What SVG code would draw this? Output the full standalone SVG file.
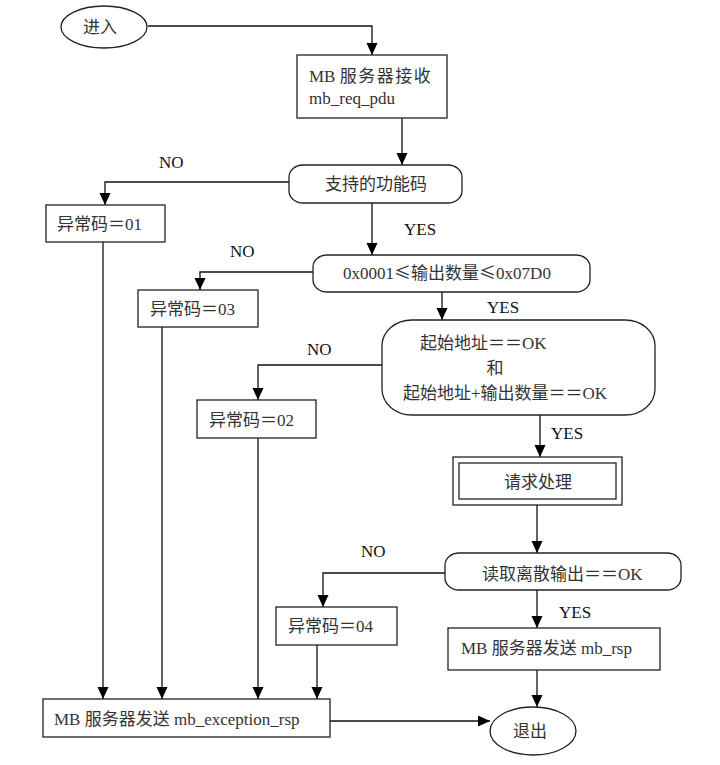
<svg xmlns="http://www.w3.org/2000/svg" width="720" height="765" viewBox="0 0 720 765">
<defs>
<marker id="arr" markerWidth="13" markerHeight="12" refX="12" refY="5.5" orient="auto" markerUnits="userSpaceOnUse">
<path d="M0,0 L12,5.5 L0,11 Z" fill="#000"/>
</marker>
<style>
.s{fill:#fff;stroke:#222;stroke-width:1.3}
.t{font-family:'Liberation Serif','DejaVu Serif','Noto Sans CJK SC',serif;font-size:17px;fill:#333}
.l{font-family:'Liberation Serif','DejaVu Serif','Noto Sans CJK SC',serif;font-size:17px;fill:#111}
.c{fill:none;stroke:#111;stroke-width:1.3}
.cj{font-family:'Noto Sans CJK SC',sans-serif}
</style>
</defs>
<rect width="720" height="765" fill="#fff"/>
<g id="connectors">
<path class="c" d="M148,26 H372 V55" marker-end="url(#arr)"/>
<path class="c" d="M402,118 V165" marker-end="url(#arr)"/>
<path class="c" d="M289,182 H105 V205" marker-end="url(#arr)"/>
<path class="c" d="M372,203 V255" marker-end="url(#arr)"/>
<path class="c" d="M313,272 H200 V290" marker-end="url(#arr)"/>
<path class="c" d="M442,292 V320" marker-end="url(#arr)"/>
<path class="c" d="M382,365 H258 V400" marker-end="url(#arr)"/>
<path class="c" d="M540,415 V457" marker-end="url(#arr)"/>
<path class="c" d="M537,505 V553" marker-end="url(#arr)"/>
<path class="c" d="M445,573 H323 V607" marker-end="url(#arr)"/>
<path class="c" d="M537,590 V628" marker-end="url(#arr)"/>
<path class="c" d="M537,670 V707" marker-end="url(#arr)"/>
<path class="c" d="M103,242 V699" marker-end="url(#arr)"/>
<path class="c" d="M162,327 V699" marker-end="url(#arr)"/>
<path class="c" d="M258,438 V699" marker-end="url(#arr)"/>
<path class="c" d="M317,645 V699" marker-end="url(#arr)"/>
<path class="c" d="M330,721 H490" marker-end="url(#arr)"/>
<text class="l" x="159" y="168">NO</text>
<text class="l" x="404" y="235">YES</text>
<text class="l" x="230" y="257">NO</text>
<text class="l" x="487" y="313">YES</text>
<text class="l" x="307" y="355">NO</text>
<text class="l" x="551" y="439">YES</text>
<text class="l" x="361" y="557">NO</text>
<text class="l" x="559" y="618">YES</text>
</g>
<g id="enter">
<ellipse class="s" cx="104" cy="27" rx="43" ry="21"/>
<text class="t" x="100" y="33" text-anchor="middle">进入</text>
</g>
<g id="receive">
<rect class="s" x="297" y="55" width="150" height="63"/>
<text class="t" x="309" y="82">MB <tspan letter-spacing="1.5">服务器接收</tspan></text>
<text class="t" x="309" y="104">mb_req_pdu</text>
</g>
<g id="dec-func">
<rect class="s" x="289" y="165" width="173" height="38" rx="14" ry="12"/>
<text class="t" x="376" y="190" text-anchor="middle">支持的功能码</text>
</g>
<g id="err01">
<rect class="s" x="46" y="205" width="119" height="37"/>
<text class="t" x="57" y="230">异常码＝01</text>
</g>
<g id="dec-qty">
<rect class="s" x="313" y="255" width="277" height="37" rx="14" ry="12"/>
<text class="t" x="447" y="279" text-anchor="middle">0x0001<tspan class="cj">≤</tspan>输出数量<tspan class="cj">≤</tspan>0x07D0</text>
</g>
<g id="err03">
<rect class="s" x="138" y="290" width="120" height="37"/>
<text class="t" x="150" y="315">异常码＝03</text>
</g>
<g id="dec-addr">
<rect class="s" x="382" y="320" width="273" height="95" rx="30" ry="26"/>
<text class="t" x="420" y="349">起始地址＝＝OK</text>
<text class="t" x="495" y="374" text-anchor="middle">和</text>
<text class="t" x="403" y="399">起始地址+输出数量＝＝OK</text>
</g>
<g id="err02">
<rect class="s" x="197" y="400" width="119" height="38"/>
<text class="t" x="209" y="426">异常码＝02</text>
</g>
<g id="process">
<rect class="s" x="453" y="457" width="169" height="48"/>
<rect class="s" x="459" y="463" width="157" height="36"/>
<text class="t" x="538" y="488" text-anchor="middle">请求处理</text>
</g>
<g id="dec-read">
<rect class="s" x="445" y="553" width="236" height="37" rx="14" ry="12"/>
<text class="t" x="482" y="580">读取离散输出＝＝OK</text>
</g>
<g id="err04">
<rect class="s" x="276" y="607" width="121" height="38"/>
<text class="t" x="288" y="632">异常码＝04</text>
</g>
<g id="send-rsp">
<rect class="s" x="448" y="628" width="212" height="42"/>
<text class="t" x="461" y="654">MB 服务器发送 mb_rsp</text>
</g>
<g id="send-exc">
<rect class="s" x="43" y="699" width="287" height="38"/>
<text class="t" x="54" y="725">MB 服务器发送 mb_exception_rsp</text>
</g>
<g id="exit">
<ellipse class="s" cx="533" cy="731" rx="43" ry="24"/>
<text class="t" x="530" y="737" text-anchor="middle">退出</text>
</g>
</svg>
